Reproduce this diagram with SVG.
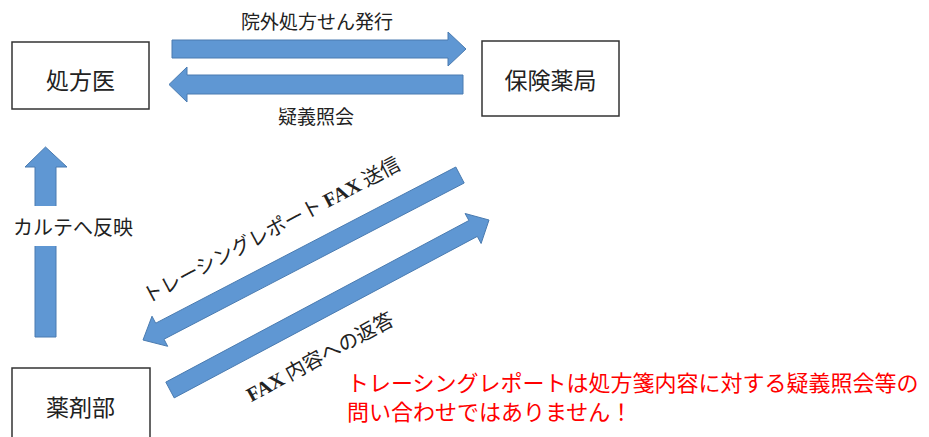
<svg xmlns="http://www.w3.org/2000/svg" width="929" height="437" viewBox="0 0 929 437">
  <defs>
    <style>
      .box { fill: #ffffff; stroke: #333333; stroke-width: 1.5; }
      .arrow { fill: #5f97d3; stroke: #4a7bb0; stroke-width: 1; }
      .jp { font-family: "Noto Sans CJK JP", "Noto Sans", sans-serif; fill: #222222; }
      .node { font-size: 23px; text-anchor: middle; }
      .lbl { font-size: 19px; text-anchor: middle; }
      .fax { font-family: "Liberation Serif", serif; font-weight: bold; }
      .note { font-family: "Noto Sans CJK JP", "Noto Sans", sans-serif; font-size: 22px; fill: #ff0000; }
    </style>
  </defs>
  <rect width="929" height="437" fill="#ffffff"/>

  <g id="connectors">
    <polygon class="arrow" points="172,40 448,40 448,32 466,49 448,66 448,58 172,58"/>
    <polygon class="arrow" points="463,75 187,75 187,67 169,84.5 187,102 187,94 463,94"/>
    <polygon class="arrow" points="35,337 35,167 25,167 45.5,147 67,167 56,167 56,337"/>
    <polygon class="arrow" points="455.8,167 464.2,183 164,339.2 167.7,346.3 143,340 152,316.2 155.7,323.2"/>
    <polygon class="arrow" points="165.8,382.1 468.9,220.5 465.1,213.5 489,220 481.1,243.5 477.3,236.4 174.2,397.9"/>
  </g>

  <g id="labels">
    <text class="jp lbl" x="317" y="29">院外処方せん発行</text>
    <text class="jp lbl" x="316" y="124">疑義照会</text>
    <rect x="10" y="206" width="128" height="40" fill="#ffffff"/>
    <text class="jp" x="73" y="235" font-size="20" text-anchor="middle">カルテへ反映</text>
    <text class="jp" font-size="20" text-anchor="middle" transform="translate(271.5,230) rotate(-28)" x="0" y="7">トレーシングレポート <tspan class="fax">FAX</tspan> 送信</text>
    <text class="jp" font-size="20" text-anchor="middle" transform="translate(320,357) rotate(-28.5)" x="0" y="7"><tspan class="fax">FAX</tspan> 内容への返答</text>
  </g>

  <g id="node-shohoui">
    <rect class="box" x="12" y="42" width="137" height="67"/>
    <text class="jp node" x="80.5" y="88.5">処方医</text>
  </g>

  <g id="node-hokenyakkyoku">
    <rect class="box" x="482" y="41" width="137" height="75"/>
    <text class="jp node" x="550.5" y="88.5">保険薬局</text>
  </g>

  <g id="node-yakuzaibu">
    <rect class="box" x="12" y="368" width="138" height="80"/>
    <text class="jp node" x="80.5" y="415.5">薬剤部</text>
  </g>

  <g id="note">
    <text class="note" x="347" y="391">トレーシングレポートは処方箋内容に対する疑義照会等の</text>
    <text class="note" x="347" y="420">問い合わせではありません！</text>
  </g>
</svg>
